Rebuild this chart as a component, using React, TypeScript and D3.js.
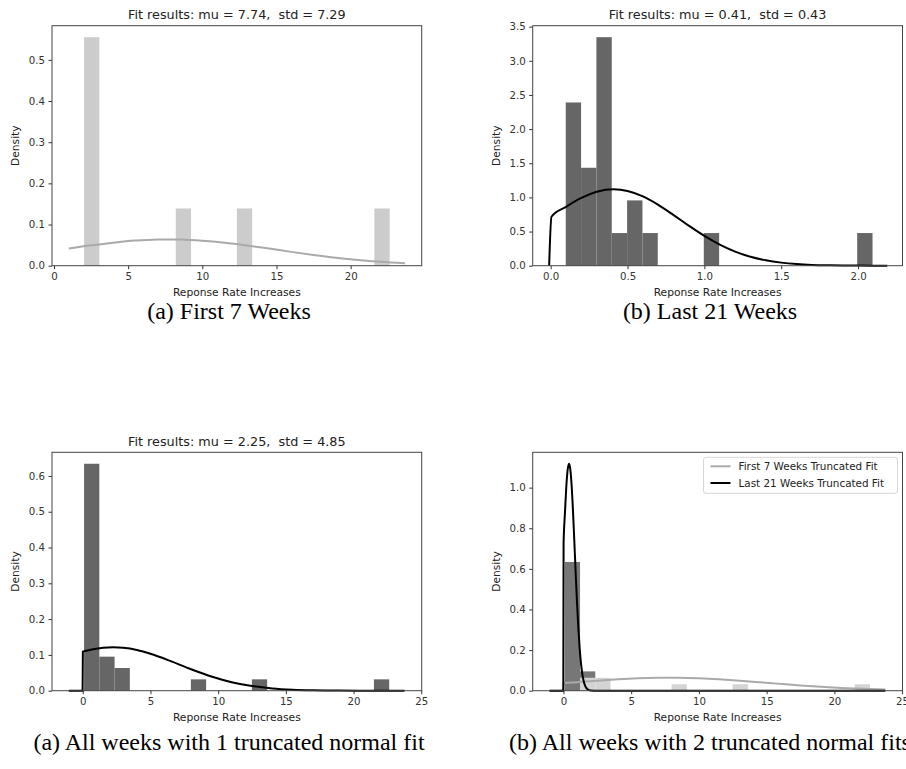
import React, { useEffect, useRef } from 'react';
import * as d3 from 'd3';

// histogram densities, 20 equal bins between the given range
const first7Range = [2.03, 22.63];
const first7Density = [0.555, 0, 0, 0, 0, 0, 0.139, 0, 0, 0, 0.139, 0, 0, 0, 0, 0, 0, 0, 0, 0.139];

const last21Range = [0.098, 2.094];
const last21Density = [2.39, 1.434, 3.346, 0.478, 0.956, 0.478, 0, 0, 0, 0.478, 0, 0, 0, 0, 0, 0, 0, 0, 0, 0.478];

const allRange = [0.098, 22.63];
const allDensity = [0.634, 0.0951, 0.0634, 0, 0, 0, 0, 0.0317, 0, 0, 0, 0.0317, 0, 0, 0, 0, 0, 0, 0, 0.0317];

// stacked version (first 7 weeks at the bottom, last 21 on top)
const stackedFirst7 = [0, 0.0634, 0.0634, 0, 0, 0, 0, 0.0317, 0, 0, 0, 0.0317, 0, 0, 0, 0, 0, 0, 0, 0.0317];
const stackedLast21 = [0.634, 0.0317, 0, 0, 0, 0, 0, 0, 0, 0, 0, 0, 0, 0, 0, 0, 0, 0, 0, 0];

// fitted curves [x, density]
const fitFirst7 = [
  [1.0, 0.0417], [2.5, 0.0494], [4, 0.056], [5.5, 0.061], [7, 0.0636], [7.74, 0.0639],
  [8.5, 0.0636], [10, 0.0609], [11.5, 0.056], [13, 0.0493], [14.5, 0.0416], [16, 0.0336],
  [17.5, 0.0261], [19, 0.0194], [20.5, 0.0138], [22, 0.0094], [23.66, 0.0059],
];
const fitLast21 = [
  [-0.01, 0], [0.005, 0.717], [0.1, 0.862], [0.2, 0.992], [0.3, 1.082], [0.41, 1.118],
  [0.5, 1.094], [0.6, 1.014], [0.7, 0.891], [0.8, 0.741], [0.9, 0.584], [1.0, 0.436],
  [1.1, 0.309], [1.2, 0.207], [1.3, 0.131], [1.4, 0.079], [1.5, 0.045], [1.6, 0.024],
  [1.7, 0.012], [1.8, 0.006], [1.9, 0.0028], [2.0, 0.0012], [2.19, 0.0002],
];
const fitAll = [
  [-1.03, 0], [-0.01, 0], [0.01, 0.1091], [0.5, 0.1136], [1.0, 0.1173], [1.5, 0.1198],
  [2.25, 0.1212], [3, 0.1198], [4, 0.1136], [5, 0.1032], [6.5, 0.0826], [8, 0.06],
  [9.5, 0.0397], [11, 0.0238], [12.5, 0.013], [14, 0.0064], [15.5, 0.0029], [17, 0.0012],
  [19, 0.0003], [21, 0.0001], [23.76, 0],
];
const fitFirst7Wide = [
  [-1.03, 0], [-0.01, 0], [0.01, 0.0365], [1.0, 0.0417], [2.5, 0.0494], [4, 0.056],
  [5.5, 0.061], [7, 0.0636], [7.74, 0.0639], [8.5, 0.0636], [10, 0.0609], [11.5, 0.056],
  [13, 0.0493], [14.5, 0.0416], [16, 0.0336], [17.5, 0.0261], [19, 0.0194], [20.5, 0.0138],
  [22, 0.0094], [23.76, 0.0057],
];
const fitLast21Wide = [
  [-1.03, 0], [-0.01, 0], [0.01, 0.725], [0.1, 0.862], [0.2, 0.992], [0.3, 1.082],
  [0.41, 1.118], [0.5, 1.094], [0.6, 1.014], [0.7, 0.891], [0.8, 0.741], [0.9, 0.584],
  [1.0, 0.436], [1.1, 0.309], [1.2, 0.207], [1.3, 0.131], [1.4, 0.079], [1.5, 0.045],
  [1.6, 0.024], [1.8, 0.006], [2.0, 0.0012], [2.5, 0], [5, 0], [10, 0], [15, 0], [20, 0], [23.76, 0],
];

const titles = [
  'Fit results: mu = 7.74,  std = 7.29',
  'Fit results: mu = 0.41,  std = 0.43',
  'Fit results: mu = 2.25,  std = 4.85',
];
const legendLabels = ['First 7 Weeks Truncated Fit', 'Last 21 Weeks Truncated Fit'];
const captions = [
  '(a) First 7 Weeks',
  '(b) Last 21 Weeks',
  '(a) All weeks with 1 truncated normal fit',
  '(b) All weeks with 2 truncated normal fits',
];
const xTicksWide = [0, 5, 10, 15, 20, 25];

const FONT = '"DejaVu Sans", sans-serif';
const LIGHT = '#cccccc';
const DARK = '#666666';

function drawPanel(svg, p) {
  const g = svg.append('g');
  const x = d3.scaleLinear().domain(p.xDomain).range([p.box.left, p.box.right]);
  const y = d3.scaleLinear().domain(p.yDomain).range([p.box.bottom, p.box.top]);

  // histogram bars
  p.hists.forEach((h) => {
    const w = (h.range[1] - h.range[0]) / h.values.length;
    const rows = h.values
      .map((v, i) => ({ v, i, base: h.base ? h.base[i] : 0 }))
      .filter((d) => d.v > 0);
    g.append('g')
      .selectAll('rect')
      .data(rows)
      .join('rect')
      .attr('x', (d) => x(h.range[0] + d.i * w))
      .attr('width', (d) => x(h.range[0] + (d.i + 1) * w) - x(h.range[0] + d.i * w))
      .attr('y', (d) => y(d.base + d.v))
      .attr('height', (d) => y(d.base) - y(d.base + d.v))
      .attr('fill', h.color);
  });

  // fitted lines
  const line = d3
    .line()
    .x((d) => x(d[0]))
    .y((d) => y(d[1]))
    .curve(d3.curveMonotoneX);
  p.lines.forEach((l) => {
    g.append('path')
      .datum(l.data)
      .attr('fill', 'none')
      .attr('stroke', l.color)
      .attr('stroke-width', 2)
      .attr('d', line);
  });

  // axes
  const xa = g
    .append('g')
    .attr('transform', `translate(0,${p.box.bottom})`)
    .call(d3.axisBottom(x).tickValues(p.xTicks).tickFormat(p.xFmt).tickSize(3.5).tickPadding(3.5));
  const ya = g
    .append('g')
    .attr('transform', `translate(${p.box.left},0)`)
    .call(d3.axisLeft(y).tickValues(p.yTicks).tickFormat(p.yFmt).tickSize(3.5).tickPadding(3.5));
  [xa, ya].forEach((a) => {
    a.select('.domain').remove();
    a.attr('font-family', FONT).attr('font-size', 10.2);
    a.selectAll('line').attr('stroke', '#333');
    a.selectAll('text').attr('fill', '#333');
  });

  // frame
  g.append('rect')
    .attr('x', p.box.left)
    .attr('y', p.box.top)
    .attr('width', p.box.right - p.box.left)
    .attr('height', p.box.bottom - p.box.top)
    .attr('fill', 'none')
    .attr('stroke', '#444')
    .attr('stroke-width', 1);

  const cx = (p.box.left + p.box.right) / 2;
  if (p.title) {
    g.append('text')
      .attr('x', cx)
      .attr('y', p.box.top - 6.8)
      .attr('text-anchor', 'middle')
      .attr('font-family', FONT)
      .attr('font-size', 12.8)
      .attr('fill', '#222')
      .style('white-space', 'pre')
      .text(p.title);
  }
  g.append('text')
    .attr('x', cx)
    .attr('y', p.box.bottom + 30)
    .attr('text-anchor', 'middle')
    .attr('font-family', FONT)
    .attr('font-size', 10.7)
    .attr('fill', '#222')
    .text('Reponse Rate Increases');
  g.append('text')
    .attr('transform', `translate(${p.box.left - 33},${(p.box.top + p.box.bottom) / 2}) rotate(-90)`)
    .attr('text-anchor', 'middle')
    .attr('font-family', FONT)
    .attr('font-size', 10.7)
    .attr('fill', '#222')
    .text('Density');

  if (p.legend) {
    const lg = g.append('g');
    const lx = p.box.right - 199;
    const ly = p.box.top + 5;
    lg.append('rect')
      .attr('x', lx)
      .attr('y', ly)
      .attr('width', 194)
      .attr('height', 36)
      .attr('rx', 2.5)
      .attr('fill', 'white')
      .attr('fill-opacity', 0.8)
      .attr('stroke', '#d6d6d6');
    p.legend.forEach((e, i) => {
      const yy = ly + 9 + i * 16.7;
      lg.append('line')
        .attr('x1', lx + 7)
        .attr('x2', lx + 27)
        .attr('y1', yy)
        .attr('y2', yy)
        .attr('stroke', e.color)
        .attr('stroke-width', 2);
      lg.append('text')
        .attr('x', lx + 35)
        .attr('y', yy + 3.8)
        .attr('font-family', FONT)
        .attr('font-size', 10.4)
        .attr('fill', '#222')
        .text(e.label);
    });
  }
}

const App = () => {
  const ref = useRef(null);

  useEffect(() => {
    const svg = d3.select(ref.current);
    svg.selectAll('*').remove();

    const leftCol = { left: 52, right: 421.7 };
    const rightCol = { left: 532.7, right: 902.5 };
    const topRow = { top: 25.7, bottom: 265.7 };
    const botRow = { top: 452.3, bottom: 690.7 };
    const fmt1 = d3.format('.1f');
    const fmt0 = d3.format('d');

    drawPanel(svg, {
      box: { ...leftCol, ...topRow },
      xDomain: [-0.133, 24.79],
      yDomain: [0, 0.583],
      xTicks: [0, 5, 10, 15, 20],
      yTicks: [0, 0.1, 0.2, 0.3, 0.4, 0.5],
      xFmt: fmt0,
      yFmt: fmt1,
      title: titles[0],
      hists: [{ range: first7Range, values: first7Density, color: LIGHT }],
      lines: [{ data: fitFirst7, color: '#aaaaaa' }],
    });

    drawPanel(svg, {
      box: { ...rightCol, ...topRow },
      xDomain: [-0.117, 2.289],
      yDomain: [0, 3.514],
      xTicks: [0, 0.5, 1, 1.5, 2],
      yTicks: [0, 0.5, 1, 1.5, 2, 2.5, 3, 3.5],
      xFmt: fmt1,
      yFmt: fmt1,
      title: titles[1],
      hists: [{ range: last21Range, values: last21Density, color: DARK }],
      lines: [{ data: fitLast21, color: '#000' }],
    });

    drawPanel(svg, {
      box: { ...leftCol, ...botRow },
      xDomain: [-2.27, 25.03],
      yDomain: [0, 0.666],
      xTicks: xTicksWide,
      yTicks: [0, 0.1, 0.2, 0.3, 0.4, 0.5, 0.6],
      xFmt: fmt0,
      yFmt: fmt1,
      title: titles[2],
      hists: [{ range: allRange, values: allDensity, color: DARK }],
      lines: [{ data: fitAll, color: '#000' }],
    });

    drawPanel(svg, {
      box: { ...rightCol, ...botRow },
      xDomain: [-2.27, 25.03],
      yDomain: [0, 1.174],
      xTicks: xTicksWide,
      yTicks: [0, 0.2, 0.4, 0.6, 0.8, 1.0],
      xFmt: fmt0,
      yFmt: fmt1,
      title: null,
      hists: [
        { range: allRange, values: stackedFirst7, color: '#d4d4d4' },
        { range: allRange, values: stackedLast21, base: stackedFirst7, color: '#777777' },
      ],
      lines: [
        { data: fitFirst7Wide, color: '#aaaaaa' },
        { data: fitLast21Wide, color: '#000' },
      ],
      legend: [
        { label: legendLabels[0], color: '#aaaaaa' },
        { label: legendLabels[1], color: '#000' },
      ],
    });

    // subfigure captions, centred under each subfigure column
    const capPos = [
      [229, 319],
      [710, 319],
      [229, 750],
      [710, 750],
    ];
    captions.forEach((c, i) => {
      svg.append('text')
        .attr('x', capPos[i][0])
        .attr('y', capPos[i][1])
        .attr('text-anchor', 'middle')
        .attr('font-family', '"Liberation Serif", serif')
        .attr('font-size', 24)
        .attr('fill', '#000')
        .text(c);
    });
  }, []);

  return (
    <svg
      ref={ref}
      width={906}
      height={769}
      style={{ position: 'absolute', left: 0, top: 0, background: 'white' }}
    />
  );
};

export default App;
